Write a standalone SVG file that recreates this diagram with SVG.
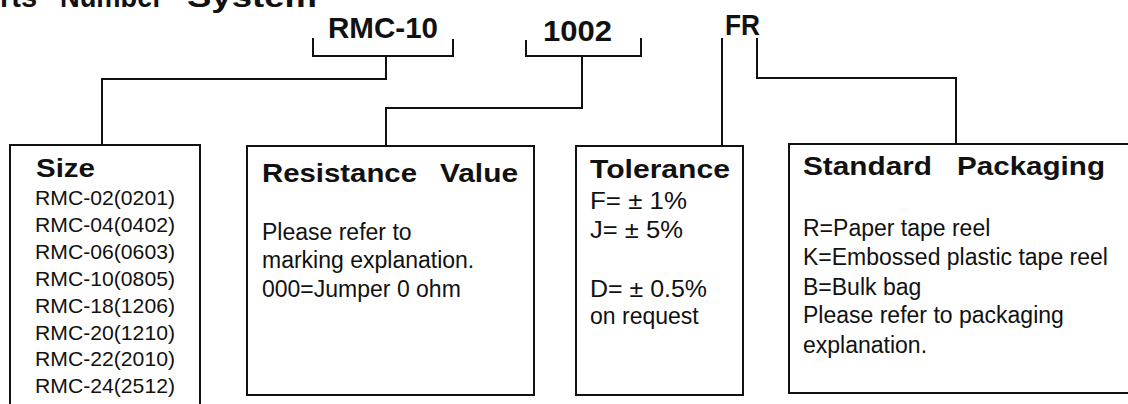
<svg xmlns="http://www.w3.org/2000/svg" width="1128" height="404" viewBox="0 0 1128 404">
<style>
  .t { font-family: "Liberation Sans", Arial, sans-serif; fill: #111; }
  .big { font-weight: bold; font-size: 30px; }
  .hd { font-weight: bold; font-size: 25px; }
  .bd { font-size: 23px; }
  .sz { font-size: 21px; }
  .box { fill: none; stroke: #111; stroke-width: 2; }
  .ln { fill: none; stroke: #111; stroke-width: 2; }
</style>
<rect width="1128" height="404" fill="#fff"/>
<g id="title">
  <text class="t big" x="0" y="7" font-size="28" textLength="37" lengthAdjust="spacingAndGlyphs">rts</text>
  <text class="t big" x="60" y="7" textLength="103" lengthAdjust="spacingAndGlyphs">Number</text>
  <text class="t big" x="187" y="7" textLength="130" lengthAdjust="spacingAndGlyphs">System</text>
</g>
<g id="label-rmc10">
  <text class="t big" x="328" y="38" textLength="110" lengthAdjust="spacingAndGlyphs">RMC-10</text>
</g>
<g id="label-1002">
  <text class="t big" x="543" y="41" textLength="69" lengthAdjust="spacingAndGlyphs">1002</text>
</g>
<g id="label-fr">
  <text class="t big" x="725" y="35" textLength="35" lengthAdjust="spacingAndGlyphs">FR</text>
</g>
<g id="connectors">
  <path class="ln" d="M313,38 V56 H453 V39"/>
  <path class="ln" d="M386,56 V79 H102 V145"/>
  <path class="ln" d="M526,40 V56 H641 V38"/>
  <path class="ln" d="M582,56 V108 H386 V146"/>
  <path class="ln" d="M722,38 V146"/>
  <path class="ln" d="M757,38 V78 H956 V144"/>
</g>
<g id="node-size">
  <rect class="box" x="10" y="145" width="190" height="270"/>
  <text class="t hd" x="36" y="177" font-size="26" textLength="59" lengthAdjust="spacingAndGlyphs">Size</text>
  <text class="t sz" x="35" y="205" textLength="140" lengthAdjust="spacingAndGlyphs">RMC-02(0201)</text>
  <text class="t sz" x="35" y="232" textLength="140" lengthAdjust="spacingAndGlyphs">RMC-04(0402)</text>
  <text class="t sz" x="35" y="259" textLength="140" lengthAdjust="spacingAndGlyphs">RMC-06(0603)</text>
  <text class="t sz" x="35" y="286" textLength="140" lengthAdjust="spacingAndGlyphs">RMC-10(0805)</text>
  <text class="t sz" x="35" y="313" textLength="140" lengthAdjust="spacingAndGlyphs">RMC-18(1206)</text>
  <text class="t sz" x="35" y="340" textLength="140" lengthAdjust="spacingAndGlyphs">RMC-20(1210)</text>
  <text class="t sz" x="35" y="366" textLength="140" lengthAdjust="spacingAndGlyphs">RMC-22(2010)</text>
  <text class="t sz" x="35" y="393" textLength="140" lengthAdjust="spacingAndGlyphs">RMC-24(2512)</text>
</g>
<g id="node-resistance">
  <rect class="box" x="247" y="146" width="287" height="249"/>
  <text class="t hd" x="262" y="182" textLength="155" lengthAdjust="spacingAndGlyphs">Resistance</text>
  <text class="t hd" x="440" y="182" textLength="78" lengthAdjust="spacingAndGlyphs">Value</text>
  <text class="t bd" x="262" y="240">Please refer to</text>
  <text class="t bd" x="262" y="268">marking explanation.</text>
  <text class="t bd" x="262" y="297">000=Jumper 0 ohm</text>
</g>
<g id="node-tolerance">
  <rect class="box" x="576" y="146" width="167" height="249"/>
  <text class="t hd" x="590" y="178" textLength="140" lengthAdjust="spacingAndGlyphs">Tolerance</text>
  <text class="t bd" x="590" y="209" textLength="97" lengthAdjust="spacingAndGlyphs">F= ± 1%</text>
  <text class="t bd" x="590" y="238" textLength="93" lengthAdjust="spacingAndGlyphs">J= ± 5%</text>
  <text class="t bd" x="590" y="297" textLength="117" lengthAdjust="spacingAndGlyphs">D= ± 0.5%</text>
  <text class="t bd" x="590" y="324">on request</text>
</g>
<g id="node-packaging">
  <rect class="box" x="789" y="144" width="350" height="249"/>
  <text class="t hd" x="803" y="175" textLength="129" lengthAdjust="spacingAndGlyphs">Standard</text>
  <text class="t hd" x="957" y="175" textLength="148" lengthAdjust="spacingAndGlyphs">Packaging</text>
  <text class="t bd" x="803" y="236">R=Paper tape reel</text>
  <text class="t bd" x="803" y="265">K=Embossed plastic tape reel</text>
  <text class="t bd" x="803" y="295">B=Bulk bag</text>
  <text class="t bd" x="803" y="323">Please refer to packaging</text>
  <text class="t bd" x="803" y="353">explanation.</text>
</g>
</svg>
